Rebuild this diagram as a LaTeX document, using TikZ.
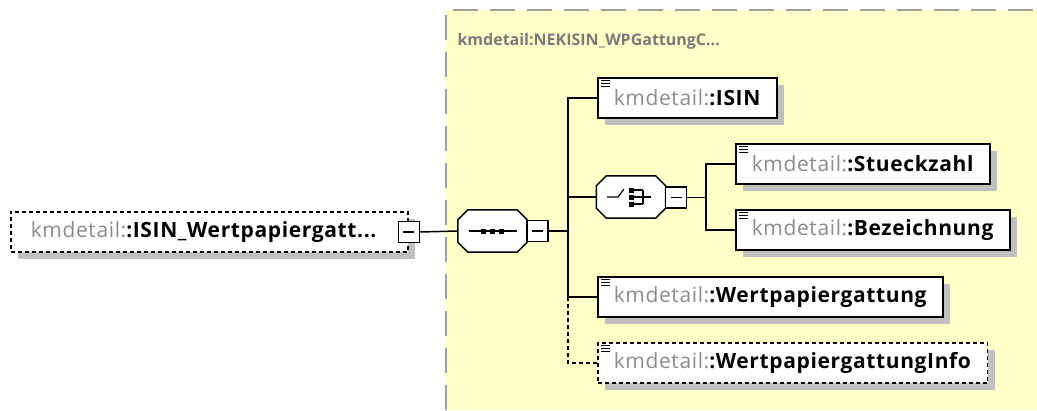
\documentclass[tikz,border=0pt]{standalone}
\usepackage{fontspec}
\setmainfont{Open Sans}
\usetikzlibrary{calc, positioning, shadows}

\definecolor{bgYellow}{HTML}{FFFFC8}
\definecolor{nsGray}{HTML}{8C8C8C}
\definecolor{titleGray}{HTML}{7A7A7A}
\definecolor{shadowGray}{HTML}{C0C0C0}
\definecolor{frameGray}{HTML}{A0A0A0}

\newcommand{\kmName}[1]{{\color{nsGray}kmdetail:}\textbf{:#1}}
% octagon of a compositor, drawn round a named node
\newcommand{\compOutline}[1]{($(#1.north west)+(10,0)$) -- ($(#1.north east)+(-10,0)$)
  -- ($(#1.north east)+(0,10)$) -- ($(#1.south east)+(0,-10)$) -- ($(#1.south east)+(-10,0)$)
  -- ($(#1.south west)+(10,0)$) -- ($(#1.south west)+(0,-10)$) -- ($(#1.north west)+(0,10)$) -- cycle}

\tikzset{
  boxShadow/.style = {drop shadow={shadow xshift=7pt, shadow yshift=-7pt, fill=shadowGray, opacity=1}},
  elemBox/.style = {draw, line width=1.5pt, fill=white, anchor=west, minimum height=40pt,
    inner xsep=16pt, font=\fontsize{21}{24}\selectfont\addfontfeatures{LetterSpace=3}, boxShadow},
  optBox/.style = {elemBox, dash pattern=on 4pt off 3pt},
  compBox/.style = {inner sep=0pt, minimum width=69pt, minimum height=42pt},
  minusBox/.style = {draw, line width=1.5pt, fill=white, minimum size=21pt, inner sep=0pt},
  conn/.style = {line width=1.5pt},
  iconLine/.style = {line width=1.2pt}
}

\begin{document}
\begin{tikzpicture}[x=1pt, y=-1pt]
  \useasboundingbox (0,0) rectangle (1037,410);

  % complex type area
  \fill[bgYellow] (446,10) rectangle (1037,410);
  \draw[frameGray, line width=2.5pt, dash pattern=on 25pt off 12pt] (446,410) -- (446,10) -- (1037,10);
  \node[anchor=west, text=titleGray, font=\fontsize{16}{20}\selectfont\bfseries] (typeName) at (454,41) {kmdetail:NEKISIN\_WPGattungC...};

  % root element
  \node[elemBox, dash pattern=on 4pt off 3pt, inner xsep=20pt] (root) at (10,232) {\kmName{ISIN\_Wertpapiergatt...}\hspace*{11pt}};
  \node[minusBox] (rootMinus) at (root.east) {\rule{11pt}{1.2pt}};

  % sequence
  \node[compBox] (seq) at (492.5,231) {};
  \fill[shadowGray, shift={(7pt,-7pt)}] \compOutline{seq};
  \draw[line width=1.5pt, fill=white] \compOutline{seq};
  \node[minusBox] (seqMinus) at (537.5,231) {\rule{11pt}{1.2pt}};
  \draw[iconLine] ($(seq.center)+(-24,0)$) -- ($(seq.center)+(24,0)$);
  \foreach \dx in {-9,0,9}
    \fill ($(seq.center)+(\dx-2.5,-2.5)$) rectangle ++(5,5);
  \draw[conn] (rootMinus.east) -- (seq.west);

  % children of the sequence
  \node[elemBox] (isin) at (597,98) {\kmName{ISIN}};
  \node[compBox] (choice) at (631,197) {};
  \fill[shadowGray, shift={(7pt,-7pt)}] \compOutline{choice};
  \draw[line width=1.5pt, fill=white] \compOutline{choice};
  \node[minusBox] (choiceMinus) at (676,197.5) {\rule{11pt}{1.2pt}};
  \node[elemBox] (wpGattung) at (597,297) {\kmName{Wertpapiergattung}};
  \node[optBox] (wpInfo) at (597,363) {\kmName{WertpapiergattungInfo}};

  % choice icon
  \draw[iconLine] ($(choice.center)+(-24,0)$) -- ++(11,0) -- ++(6,-8);
  \foreach \dy in {-7,0,7} {
    \fill ($(choice.center)+(-2.5,\dy-2.5)$) rectangle ++(5,5);
    \draw[iconLine] ($(choice.center)+(3,\dy)$) -- ++(9,0);
  }
  \draw[iconLine] ($(choice.center)+(12,-7)$) -- ++(0,14);
  \draw[iconLine] ($(choice.center)+(12,0)$) -- ++(8,0);

  % children of the choice
  \node[elemBox] (stueck) at (735,164) {\kmName{Stueckzahl}};
  \node[elemBox] (bez) at (735,230) {\kmName{Bezeichnung}};

  % icons of the elements
  \foreach \n in {isin, stueck, bez, wpGattung, wpInfo}
    \foreach \d in {3,6,9}
      \draw[iconLine] ($(\n.north west)+(4,\d)$) -- ++(9,0);

  % connectors of the sequence
  \coordinate (seqFork) at (568,231);
  \draw[conn] (seqMinus.east) -- (seqFork);
  \draw[conn] (isin.west) -| (seqFork) |- (wpGattung.west);
  \draw[conn] (seqFork |- choice.west) -- (choice.west);
  \draw[conn, dash pattern=on 4pt off 3pt] (seqFork |- wpGattung.west) |- (wpInfo.west);

  % connectors of the choice
  \coordinate (choiceFork) at (706,197.5);
  \draw[conn] (choiceMinus.east) -- (choiceFork);
  \draw[conn] (stueck.west) -| (choiceFork) |- (bez.west);
\end{tikzpicture}
\end{document}
